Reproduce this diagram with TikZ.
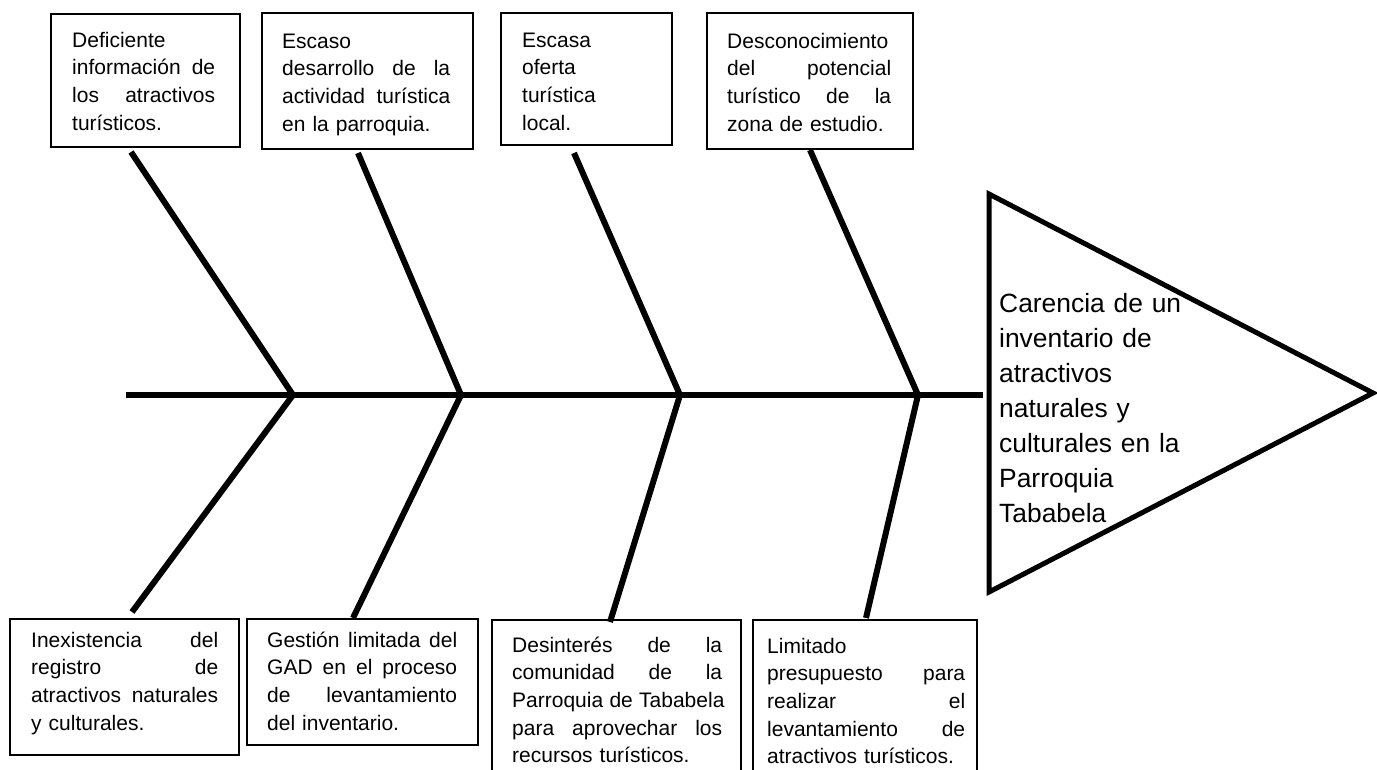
\documentclass[tikz,border=0pt]{standalone}
\usepackage{fontspec}
\setmainfont{Liberation Sans}
\newcommand\jl[2]{\leavevmode\hbox to #1{\spaceskip=0.3em plus 10em\relax #2}}
\begin{document}
\begin{tikzpicture}[x=1pt,y=-1pt,
  frame/.style={draw, line width=1.6pt, inner sep=0pt, anchor=north west},
  txt/.style={inner sep=0pt, anchor=base west, align=left,
    font=\fontsize{21}{27.7}\selectfont},
  bone/.style={line width=6pt},
  head/.style={line width=5pt, line join=miter},
  efftxt/.style={inner sep=0pt, anchor=base west, align=left, text width=220pt,
    font=\fontsize{26.4}{35}\selectfont}]
\useasboundingbox (0,0) rectangle (1377,769);

% spine
\coordinate (tail) at (126,395);
\coordinate (hd) at (983,395);
\draw[bone] (tail) -- (hd);

% effect triangle
\coordinate (tA) at (989,194);
\coordinate (tB) at (1373,393);
\coordinate (tC) at (989,592);
\draw[head] (tA) -- (tB) -- (tC) -- cycle;
\node[efftxt] (eff) at (999,312) {Carencia de un\\inventario de\\atractivos\\naturales y\\culturales en la\\Parroquia\\Tababela};

% junctions on the spine
\coordinate (j1) at (293,395);
\coordinate (j2) at (461,395);
\coordinate (j3) at (680,395);
\coordinate (j4) at (918,395);

% top boxes
\node[frame, minimum width=189pt, minimum height=133pt] (b1) at (50,13) {};
\node[txt, text width=145pt] (b1t) at (72,47)
  {Deficiente\\\jl{143pt}{información de}\\\jl{143pt}{los atractivos}\\turísticos.};
\node[frame, minimum width=211pt, minimum height=136pt] (b2) at (261,12) {};
\node[txt, text width=170pt] (b2t) at (282,48)
  {Escaso\\\jl{168pt}{desarrollo de la}\\\jl{168pt}{actividad turística}\\en la parroquia.};
\node[frame, minimum width=171pt, minimum height=132pt] (b3) at (500,12) {};
\node[txt, text width=127pt] (b3t) at (522,47)
  {Escasa\\oferta\\turística\\local.};
\node[frame, minimum width=206pt, minimum height=136pt] (b4) at (706,12) {};
\node[txt, text width=166pt] (b4t) at (727,48)
  {Desconocimiento\\\jl{164pt}{del potencial}\\\jl{164pt}{turístico de la}\\zona de estudio.};

% bottom boxes
\node[frame, minimum width=229pt, minimum height=136pt] (b5) at (9,618) {};
\node[txt, text width=189pt] (b5t) at (31,647)
  {\jl{187pt}{Inexistencia del}\\\jl{187pt}{registro de}\\\jl{187pt}{atractivos naturales}\\y culturales.};
\node[frame, minimum width=231pt, minimum height=126pt] (b6) at (246,618) {};
\node[txt, text width=192pt] (b6t) at (267,647)
  {\jl{190pt}{Gestión limitada del}\\\jl{190pt}{GAD en el proceso}\\\jl{190pt}{de levantamiento}\\del inventario.};
\draw[line width=1.6pt] (492,780) -- (492,620) -- (741,620) -- (741,780);
\node[txt, text width=212pt] (b7t) at (512,652)
  {\jl{210pt}{Desinterés de la}\\\jl{210pt}{comunidad de la}\\\jl{210pt}{Parroquia de Tababela}\\\jl{210pt}{para aprovechar los}\\recursos turísticos.};
\draw[line width=1.6pt] (753,780) -- (753,620) -- (977,620) -- (977,780);
\node[txt, text width=200pt] (b8t) at (767,653)
  {Limitado\\\jl{198pt}{presupuesto para}\\\jl{198pt}{realizar el}\\\jl{198pt}{levantamiento de}\\atractivos turísticos.};

% bone end points
\coordinate (t1) at (131,152);
\coordinate (t2) at (358,153);
\coordinate (t3) at (574,153);
\coordinate (t4) at (810,150);
\coordinate (e5) at (132,612);
\coordinate (e6) at (353,618);
\coordinate (e7) at (610,622);
\coordinate (e8) at (866,618);

\draw[bone] (t1) -- (j1) -- (e5);
\draw[bone] (t2) -- (j2) -- (e6);
\draw[bone] (t3) -- (j3) -- (e7);
\draw[bone] (t4) -- (j4) -- (e8);
\end{tikzpicture}
\end{document}
